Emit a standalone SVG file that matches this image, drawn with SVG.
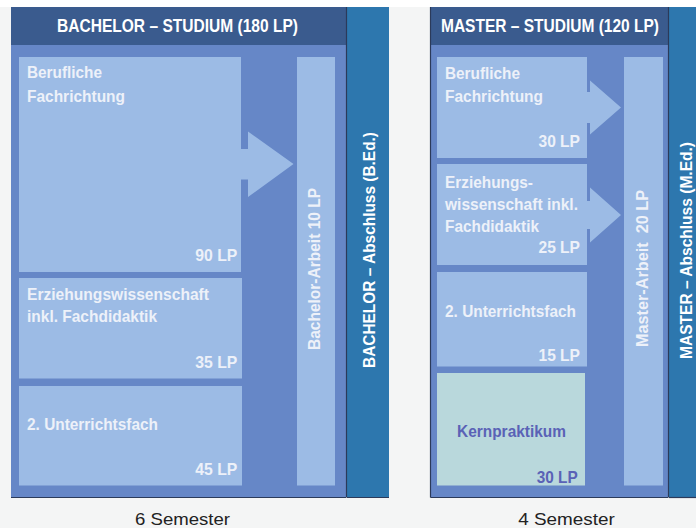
<svg xmlns="http://www.w3.org/2000/svg" width="696" height="528" viewBox="0 0 696 528">
<style>
.bg{fill:#f4f5f5}
.outer{fill:#6687c7}
.head{fill:#3a5b8e}
.bar{fill:#2d77ae}
.box{fill:#9cbbe5}
.kern{fill:#b9d8dc}
.edge{stroke:#2b3a5a;stroke-width:1.2;fill:none}
text{font-family:"Liberation Sans",Arial,sans-serif;font-weight:bold;font-size:17px;fill:#edf1f9}
.h{fill:#ffffff;font-size:18px}
.v{fill:#ffffff}
.vs{fill:#ffffff;font-size:16px}
.k{fill:#5a62b6}
.sem{font-weight:normal;fill:#222222;font-size:17px}
</style>
<rect class="bg" x="0" y="0" width="696" height="528"/>
<rect x="0" y="0" width="696" height="7" fill="#ffffff"/>

<g id="bachelor">
  <rect class="outer" x="11" y="7" width="335" height="490.5"/>
  <rect class="head" x="11" y="7" width="335" height="38"/>
  <text class="h" x="57" y="31.5" textLength="241" lengthAdjust="spacingAndGlyphs">BACHELOR – STUDIUM (180 LP)</text>
  <line class="edge" x1="11" y1="497.5" x2="346" y2="497.5"/>
</g>

<g id="b-beruf">
  <rect class="box" x="19" y="57" width="222" height="215"/>
  <text x="27" y="78" textLength="75" lengthAdjust="spacingAndGlyphs">Berufliche</text>
  <text x="27" y="101.7" textLength="98" lengthAdjust="spacingAndGlyphs">Fachrichtung</text>
  <text x="237.3" y="261" text-anchor="end" textLength="42" lengthAdjust="spacingAndGlyphs">90 LP</text>
</g>

<g id="b-erz">
  <rect class="box" x="19" y="278" width="223" height="100.5"/>
  <text x="27" y="299.5" textLength="182" lengthAdjust="spacingAndGlyphs">Erziehungswissenschaft</text>
  <text x="27" y="321.7" textLength="130" lengthAdjust="spacingAndGlyphs">inkl. Fachdidaktik</text>
  <text x="237.3" y="367.5" text-anchor="end" textLength="42" lengthAdjust="spacingAndGlyphs">35 LP</text>
</g>

<g id="b-uf">
  <rect class="box" x="19" y="386" width="223" height="99.5"/>
  <text x="27" y="430" textLength="131" lengthAdjust="spacingAndGlyphs">2. Unterrichtsfach</text>
  <text x="237.3" y="475" text-anchor="end" textLength="42" lengthAdjust="spacingAndGlyphs">45 LP</text>
</g>

<g id="b-arbeit">
  <rect class="box" x="297" y="57" width="38" height="428.5"/>
  <text transform="translate(320,350) rotate(-90)" x="0" y="0" textLength="162" lengthAdjust="spacingAndGlyphs">Bachelor-Arbeit 10 LP</text>
</g>

<g id="b-abschluss">
  <rect class="bar" x="347" y="7" width="42" height="490.5"/>
  <line class="edge" x1="346.5" y1="7" x2="346.5" y2="497.5"/>
  <line class="edge" x1="347" y1="497.5" x2="389" y2="497.5"/>
  <text class="v" transform="translate(375,368) rotate(-90)" x="0" y="0" textLength="236" lengthAdjust="spacingAndGlyphs">BACHELOR – Abschluss (B.Ed.)</text>
</g>

<g id="master">
  <rect class="outer" x="431" y="7" width="237" height="490.5"/>
  <rect class="head" x="431" y="7" width="237" height="38"/>
  <text class="h" x="441" y="31.5" textLength="218" lengthAdjust="spacingAndGlyphs">MASTER – STUDIUM (120 LP)</text>
  <line class="edge" x1="430.5" y1="7" x2="430.5" y2="497.5"/>
  <line class="edge" x1="430.5" y1="497.5" x2="668" y2="497.5"/>
</g>

<g id="m-beruf">
  <rect class="box" x="437" y="57" width="150" height="101"/>
  <text x="445" y="79" textLength="75" lengthAdjust="spacingAndGlyphs">Berufliche</text>
  <text x="445" y="102" textLength="98" lengthAdjust="spacingAndGlyphs">Fachrichtung</text>
  <text x="580" y="146.7" text-anchor="end" textLength="41.5" lengthAdjust="spacingAndGlyphs">30 LP</text>
</g>

<g id="m-erz">
  <rect class="box" x="437" y="164" width="150" height="101"/>
  <text x="445" y="187.5" textLength="88" lengthAdjust="spacingAndGlyphs">Erziehungs-</text>
  <text x="445" y="210" textLength="133" lengthAdjust="spacingAndGlyphs">wissenschaft inkl.</text>
  <text x="445" y="232" textLength="94" lengthAdjust="spacingAndGlyphs">Fachdidaktik</text>
  <text x="580" y="253.3" text-anchor="end" textLength="41.5" lengthAdjust="spacingAndGlyphs">25 LP</text>
</g>

<g id="m-uf">
  <rect class="box" x="437" y="272" width="150" height="94.5"/>
  <text x="445" y="316.7" textLength="131" lengthAdjust="spacingAndGlyphs">2. Unterrichtsfach</text>
  <text x="580" y="361" text-anchor="end" textLength="41.5" lengthAdjust="spacingAndGlyphs">15 LP</text>
</g>

<g id="m-kern">
  <rect class="kern" x="437" y="373" width="148" height="112.5"/>
  <text class="k" x="457" y="436.7" textLength="109" lengthAdjust="spacingAndGlyphs">Kernpraktikum</text>
  <text class="k" x="577.7" y="482.7" text-anchor="end" textLength="41" lengthAdjust="spacingAndGlyphs">30 LP</text>
</g>

<g id="m-arbeit">
  <rect class="box" x="624" y="57" width="39" height="428.5"/>
  <text transform="translate(648,347) rotate(-90)" x="0" y="0" xml:space="preserve" textLength="157" lengthAdjust="spacingAndGlyphs">Master-Arbeit  20 LP</text>
</g>

<g id="m-abschluss">
  <rect class="bar" x="669" y="7" width="27" height="490.5"/>
  <line class="edge" x1="668.5" y1="7" x2="668.5" y2="497.5"/>
  <line class="edge" x1="669" y1="497.5" x2="696" y2="497.5"/>
  <text class="vs" transform="translate(692.3,359) rotate(-90)" x="0" y="0" textLength="217" lengthAdjust="spacingAndGlyphs">MASTER – Abschluss (M.Ed.)</text>
</g>

<g id="connectors">
  <polygon class="box" points="241,149 248,149 248,131.5 293.5,164 248,197 248,179.5 241,179.5"/>
  <polygon class="box" points="587,92 590,92 590,80.5 621,107.5 590,134.5 590,123 587,123"/>
  <polygon class="box" points="587,201 590,201 590,187.5 621,215 590,242.5 590,229 587,229"/>
</g>

<g id="labels">
  <text class="sem" x="135" y="525" textLength="95" lengthAdjust="spacingAndGlyphs">6 Semester</text>
  <text class="sem" x="518.3" y="525" textLength="96.5" lengthAdjust="spacingAndGlyphs">4 Semester</text>
</g>
</svg>
